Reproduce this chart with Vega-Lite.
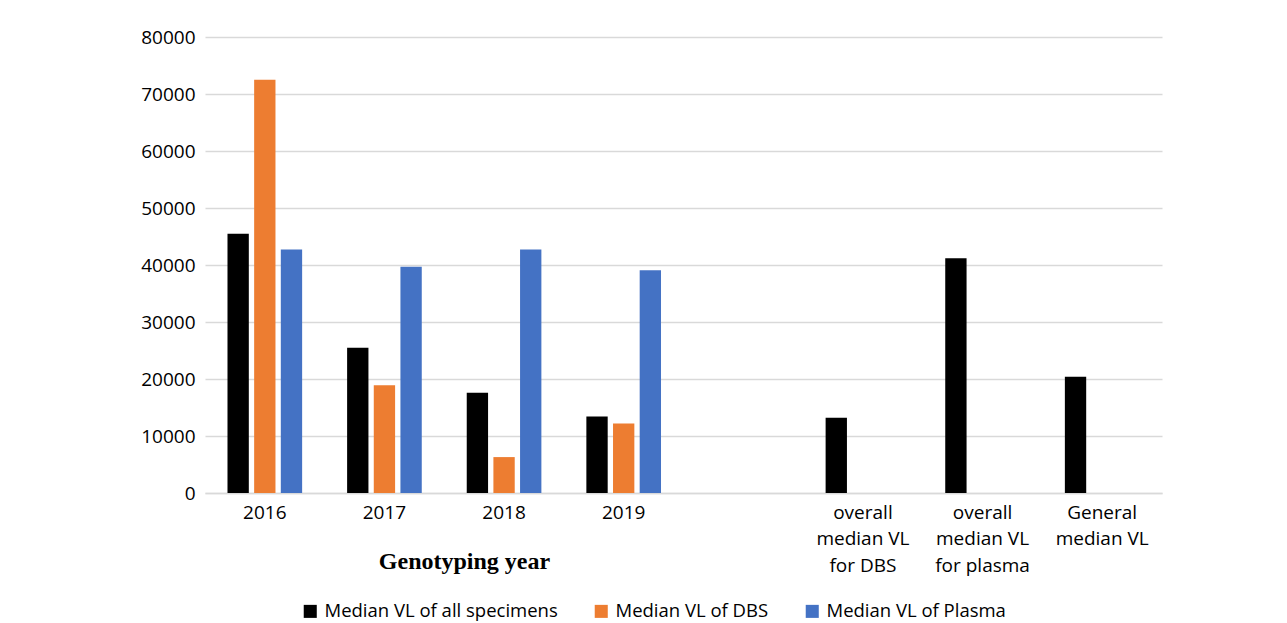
{
  "$schema": "https://vega.github.io/schema/vega-lite/v6.json",
  "width": 957,
  "height": 456,
  "autosize": {"type": "none"},
  "padding": {"left": 205, "top": 37, "right": 125, "bottom": 130},
  "background": "white",
  "config": {
    "view": {"stroke": null},
    "font": "Open Sans"
  },
  "data": {
    "values": [
      {"category": "2016", "series": "Median VL of all specimens", "value": 45500},
      {"category": "2016", "series": "Median VL of DBS", "value": 72500},
      {"category": "2016", "series": "Median VL of Plasma", "value": 42700},
      {"category": "2017", "series": "Median VL of all specimens", "value": 25500},
      {"category": "2017", "series": "Median VL of DBS", "value": 18900},
      {"category": "2017", "series": "Median VL of Plasma", "value": 39700},
      {"category": "2018", "series": "Median VL of all specimens", "value": 17600},
      {"category": "2018", "series": "Median VL of DBS", "value": 6300},
      {"category": "2018", "series": "Median VL of Plasma", "value": 42700},
      {"category": "2019", "series": "Median VL of all specimens", "value": 13400},
      {"category": "2019", "series": "Median VL of DBS", "value": 12200},
      {"category": "2019", "series": "Median VL of Plasma", "value": 39100},
      {"category": "overall median VL for DBS", "series": "Median VL of all specimens", "value": 13200},
      {"category": "overall median VL for plasma", "series": "Median VL of all specimens", "value": 41200},
      {"category": "General median VL", "series": "Median VL of all specimens", "value": 20400}
    ]
  },
  "mark": {"type": "bar"},
  "encoding": {
    "x": {
      "field": "category",
      "type": "nominal",
      "sort": null,
      "scale": {
        "domain": ["2016", "2017", "2018", "2019", " ", "overall median VL for DBS", "overall median VL for plasma", "General median VL"],
        "paddingInner": 0.376,
        "paddingOuter": 0.188
      },
      "axis": {
        "title": "Genotyping year",
        "titleFont": "Liberation Serif",
        "titleFontWeight": "bold",
        "titleFontSize": 24,
        "titleColor": "#000000",
        "titleX": 259,
        "titleY": 68,
        "titleAlign": "center",
        "titleBaseline": "middle",
        "labelAngle": 0,
        "labelFontSize": 19,
        "labelColor": "#000000",
        "labelPadding": 10,
        "labelLineHeight": 26.5,
        "labelLimit": 0,
        "labelOverlap": false,
        "labelExpr": "datum.value == 'overall median VL for DBS' ? ['overall', 'median VL', 'for DBS'] : datum.value == 'overall median VL for plasma' ? ['overall', 'median VL', 'for plasma'] : datum.value == 'General median VL' ? ['General', 'median VL'] : datum.value",
        "ticks": false,
        "domainColor": "#d9d9d9",
        "domainWidth": 1.5,
        "grid": false
      }
    },
    "xOffset": {
      "field": "series",
      "type": "nominal",
      "scale": {
        "domain": ["Median VL of all specimens", "Median VL of DBS", "Median VL of Plasma"],
        "paddingInner": 0.2,
        "paddingOuter": 0
      }
    },
    "y": {
      "field": "value",
      "type": "quantitative",
      "scale": {"domain": [0, 80000], "nice": false},
      "axis": {
        "title": null,
        "values": [0, 10000, 20000, 30000, 40000, 50000, 60000, 70000, 80000],
        "format": "d",
        "labelFontSize": 19,
        "labelColor": "#000000",
        "labelPadding": 10,
        "labelOverlap": false,
        "ticks": false,
        "domain": false,
        "gridColor": "#d9d9d9",
        "gridWidth": 1.5
      }
    },
    "color": {
      "field": "series",
      "type": "nominal",
      "scale": {
        "domain": ["Median VL of all specimens", "Median VL of DBS", "Median VL of Plasma"],
        "range": ["#000000", "#ED7D31", "#4472C4"]
      },
      "legend": {
        "title": null,
        "orient": "none",
        "direction": "horizontal",
        "legendX": 96,
        "legendY": 565,
        "symbolType": "square",
        "symbolSize": 170,
        "symbolStrokeWidth": 0,
        "labelFontSize": 18.5,
        "labelLimit": 0,
        "labelColor": "#000000",
        "labelOffset": 5,
        "columnPadding": 34,
        "symbolOpacity": 1
      }
    }
  }
}
